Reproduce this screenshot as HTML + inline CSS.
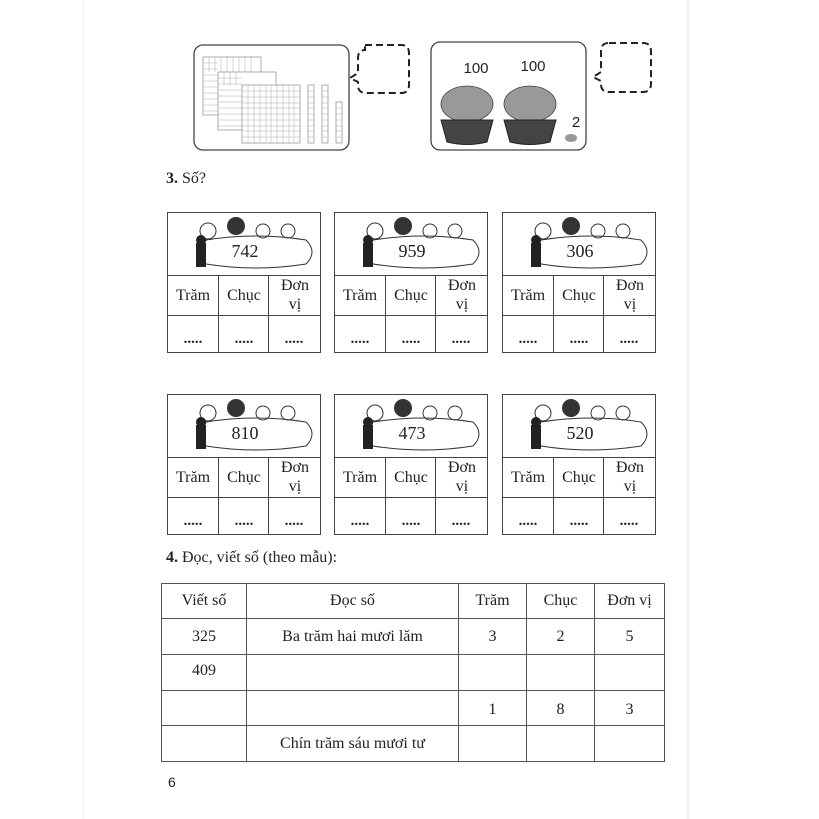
<!DOCTYPE html>
<html><head><meta charset="utf-8"><style>
body{margin:0;width:819px;height:819px;background:#fff;position:relative;overflow:hidden;font-family:"Liberation Serif",serif;color:#222}
.a{position:absolute}
.card{position:absolute;width:154px;height:141px;border:1.5px solid #444;box-sizing:border-box}
.card svg{position:absolute;left:0;top:0}
.num{position:absolute;left:0;width:154px;top:28px;text-align:center;font-size:18px}
.h1{position:absolute;left:0;top:62px;width:100%;border-top:1.5px solid #444}
.h2{position:absolute;left:0;top:102px;width:100%;border-top:1.5px solid #444}
.v1{position:absolute;left:50px;top:62px;bottom:0;border-left:1.5px solid #444}
.v2{position:absolute;left:100px;top:62px;bottom:0;border-left:1.5px solid #444}
.lab{position:absolute;top:74px;font-size:16px;width:50px;text-align:center}
.dv{position:absolute;top:63px;font-size:16px;width:52px;text-align:center;line-height:19px;left:101px}
.dot{position:absolute;top:118px;font-size:15px;font-weight:bold;width:50px;text-align:center}
table{position:absolute;left:161px;top:583px;border-collapse:collapse;font-size:16px}
td{border:1.5px solid #555;text-align:center;padding:0}
</style></head><body>
<div class="a" style="left:83px;top:0;width:1px;height:819px;background:#f0f0f0"></div>
<div class="a" style="left:687px;top:0;width:2px;height:819px;background:#eee"></div>

<svg class="a" style="left:0;top:0" width="819" height="200">
<rect x="194" y="45" width="155" height="105" rx="9" fill="none" stroke="#444" stroke-width="1.3"/>
<g stroke="#777" stroke-width="0.6" fill="#fff">
<rect x="203" y="57" width="58" height="58"/><rect x="218" y="72" width="58" height="58"/><rect x="242" y="85" width="58" height="58"/>
<rect x="308" y="85" width="6" height="58"/><rect x="322" y="85" width="6" height="58"/><rect x="336" y="102" width="6" height="41"/>
</g>
<g stroke="#999" stroke-width="0.4">
<path d="M248 85v58M254 85v58M260 85v58M266 85v58M271 85v58M277 85v58M283 85v58M289 85v58M294 85v58M242 91h58M242 97h58M242 103h58M242 108h58M242 114h58M242 120h58M242 126h58M242 131h58M242 137h58"/>
<path d="M209 57v15M215 57v15M221 57v15M227 57v15M233 57v15M239 57v15M245 57v15M251 57v15M203 63h15M203 69h15M203 75h15M203 81h15M203 87h15M203 93h15M203 99h15M203 105h15M203 111h15M224 72v13M230 72v13M236 72v13M218 78h24M218 84h24M218 90h24M218 96h24M218 102h24M218 108h24M218 114h24M218 120h24M218 126h24"/>
<path d="M308 91h6M308 97h6M308 103h6M308 108h6M308 114h6M308 120h6M308 126h6M308 131h6M308 137h6M322 91h6M322 97h6M322 103h6M322 108h6M322 114h6M322 120h6M322 126h6M322 131h6M322 137h6M336 108h6M336 114h6M336 120h6M336 126h6M336 131h6M336 137h6"/>
</g>
<path d="M365 45h36q8 0 8 8v32q0 8-8 8h-35q-8 0-8-8v-3l-8-4 8-5v-15q0-8 7-8z" fill="none" stroke="#222" stroke-width="2" stroke-dasharray="7,4"/>
<rect x="431" y="42" width="155" height="108" rx="9" fill="none" stroke="#444" stroke-width="1.3"/>
<text x="476" y="73" font-family="Liberation Sans" font-size="15" text-anchor="middle" fill="#222">100</text>
<text x="533" y="71" font-family="Liberation Sans" font-size="15" text-anchor="middle" fill="#222">100</text>
<text x="576" y="127" font-family="Liberation Sans" font-size="15" text-anchor="middle" fill="#222">2</text>
<g fill="#999" stroke="#444" stroke-width="0.8">
<ellipse cx="467" cy="104" rx="26" ry="18"/><ellipse cx="530" cy="104" rx="26" ry="18"/>
</g>
<g fill="#444" stroke="#222"><path d="M441 120h52l-6 22q-20 5-40 0z"/><path d="M504 120h52l-6 22q-20 5-40 0z"/></g>
<ellipse cx="571" cy="138" rx="6" ry="4" fill="#999"/>
<path d="M609 43h34q8 0 8 8v33q0 8-8 8h-34q-8 0-8-8v-3l-8-4 8-5v-21q0-8 8-8z" fill="none" stroke="#222" stroke-width="2" stroke-dasharray="7,4"/>
</svg>

<div class="a" style="left:166px;top:170px;font-size:16px"><b>3.</b> Số?</div>

<div class="card" style="left:167px;top:212px"><svg width="154" height="62"><g fill="none" stroke="#333" stroke-width="1"><path d="M38 27q50-8 100 0q12 12 0 24q-50 8-100 0q-6-12 0-24z"/><circle cx="40" cy="18" r="8"/><circle cx="95" cy="18" r="7"/><circle cx="120" cy="18" r="7"/></g><circle cx="68" cy="13" r="9" fill="#333"/><path d="M28 30h10v24h-10z" fill="#222"/><circle cx="33" cy="27" r="5" fill="#222"/></svg><div class="num">742</div><div class="h1"></div><div class="h2"></div><div class="v1"></div><div class="v2"></div><div class="lab" style="left:0">Trăm</div><div class="lab" style="left:51px">Chục</div><div class="dv">Đơn<br>vị</div><div class="dot" style="left:0">.....</div><div class="dot" style="left:51px">.....</div><div class="dot" style="left:101px">.....</div></div>

<div class="card" style="left:334px;top:212px"><svg width="154" height="62"><g fill="none" stroke="#333" stroke-width="1"><path d="M38 27q50-8 100 0q12 12 0 24q-50 8-100 0q-6-12 0-24z"/><circle cx="40" cy="18" r="8"/><circle cx="95" cy="18" r="7"/><circle cx="120" cy="18" r="7"/></g><circle cx="68" cy="13" r="9" fill="#333"/><path d="M28 30h10v24h-10z" fill="#222"/><circle cx="33" cy="27" r="5" fill="#222"/></svg><div class="num">959</div><div class="h1"></div><div class="h2"></div><div class="v1"></div><div class="v2"></div><div class="lab" style="left:0">Trăm</div><div class="lab" style="left:51px">Chục</div><div class="dv">Đơn<br>vị</div><div class="dot" style="left:0">.....</div><div class="dot" style="left:51px">.....</div><div class="dot" style="left:101px">.....</div></div>

<div class="card" style="left:502px;top:212px"><svg width="154" height="62"><g fill="none" stroke="#333" stroke-width="1"><path d="M38 27q50-8 100 0q12 12 0 24q-50 8-100 0q-6-12 0-24z"/><circle cx="40" cy="18" r="8"/><circle cx="95" cy="18" r="7"/><circle cx="120" cy="18" r="7"/></g><circle cx="68" cy="13" r="9" fill="#333"/><path d="M28 30h10v24h-10z" fill="#222"/><circle cx="33" cy="27" r="5" fill="#222"/></svg><div class="num">306</div><div class="h1"></div><div class="h2"></div><div class="v1"></div><div class="v2"></div><div class="lab" style="left:0">Trăm</div><div class="lab" style="left:51px">Chục</div><div class="dv">Đơn<br>vị</div><div class="dot" style="left:0">.....</div><div class="dot" style="left:51px">.....</div><div class="dot" style="left:101px">.....</div></div>

<div class="card" style="left:167px;top:394px"><svg width="154" height="62"><g fill="none" stroke="#333" stroke-width="1"><path d="M38 27q50-8 100 0q12 12 0 24q-50 8-100 0q-6-12 0-24z"/><circle cx="40" cy="18" r="8"/><circle cx="95" cy="18" r="7"/><circle cx="120" cy="18" r="7"/></g><circle cx="68" cy="13" r="9" fill="#333"/><path d="M28 30h10v24h-10z" fill="#222"/><circle cx="33" cy="27" r="5" fill="#222"/></svg><div class="num">810</div><div class="h1"></div><div class="h2"></div><div class="v1"></div><div class="v2"></div><div class="lab" style="left:0">Trăm</div><div class="lab" style="left:51px">Chục</div><div class="dv">Đơn<br>vị</div><div class="dot" style="left:0">.....</div><div class="dot" style="left:51px">.....</div><div class="dot" style="left:101px">.....</div></div>

<div class="card" style="left:334px;top:394px"><svg width="154" height="62"><g fill="none" stroke="#333" stroke-width="1"><path d="M38 27q50-8 100 0q12 12 0 24q-50 8-100 0q-6-12 0-24z"/><circle cx="40" cy="18" r="8"/><circle cx="95" cy="18" r="7"/><circle cx="120" cy="18" r="7"/></g><circle cx="68" cy="13" r="9" fill="#333"/><path d="M28 30h10v24h-10z" fill="#222"/><circle cx="33" cy="27" r="5" fill="#222"/></svg><div class="num">473</div><div class="h1"></div><div class="h2"></div><div class="v1"></div><div class="v2"></div><div class="lab" style="left:0">Trăm</div><div class="lab" style="left:51px">Chục</div><div class="dv">Đơn<br>vị</div><div class="dot" style="left:0">.....</div><div class="dot" style="left:51px">.....</div><div class="dot" style="left:101px">.....</div></div>

<div class="card" style="left:502px;top:394px"><svg width="154" height="62"><g fill="none" stroke="#333" stroke-width="1"><path d="M38 27q50-8 100 0q12 12 0 24q-50 8-100 0q-6-12 0-24z"/><circle cx="40" cy="18" r="8"/><circle cx="95" cy="18" r="7"/><circle cx="120" cy="18" r="7"/></g><circle cx="68" cy="13" r="9" fill="#333"/><path d="M28 30h10v24h-10z" fill="#222"/><circle cx="33" cy="27" r="5" fill="#222"/></svg><div class="num">520</div><div class="h1"></div><div class="h2"></div><div class="v1"></div><div class="v2"></div><div class="lab" style="left:0">Trăm</div><div class="lab" style="left:51px">Chục</div><div class="dv">Đơn<br>vị</div><div class="dot" style="left:0">.....</div><div class="dot" style="left:51px">.....</div><div class="dot" style="left:101px">.....</div></div>

<div class="a" style="left:166px;top:549px;font-size:16px"><b>4.</b> Đọc, viết số (theo mẫu):</div>

<table>
<tr style="height:35px"><td style="width:84px">Viết số</td><td style="width:211px">Đọc số</td><td style="width:67px">Trăm</td><td style="width:67px">Chục</td><td style="width:69px">Đơn vị</td></tr>
<tr style="height:36px"><td>325</td><td>Ba trăm hai mươi lăm</td><td>3</td><td>2</td><td>5</td></tr>
<tr style="height:36px;vertical-align:top"><td style="padding-top:7px">409</td><td></td><td></td><td></td><td></td></tr>
<tr style="height:35px;vertical-align:bottom"><td></td><td></td><td style="padding-bottom:6px">1</td><td style="padding-bottom:6px">8</td><td style="padding-bottom:6px">3</td></tr>
<tr style="height:36px"><td></td><td>Chín trăm sáu mươi tư</td><td></td><td></td><td></td></tr>
</table>

<div class="a" style="left:168px;top:774px;font-family:'Liberation Sans',sans-serif;font-size:14px">6</div>
</body></html>
